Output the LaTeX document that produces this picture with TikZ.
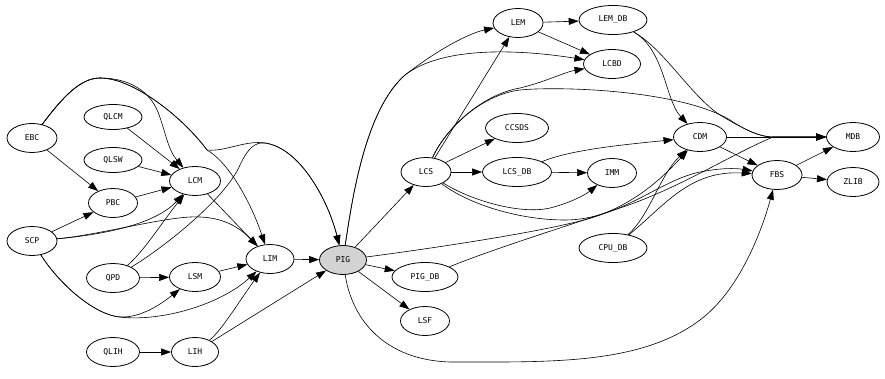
\documentclass[tikz,border=0pt]{standalone}
\usepackage{fontspec}
\newfontfamily\lblfont{DejaVu Sans Mono}
\usetikzlibrary{shapes.geometric,arrows.meta}
\begin{document}
\begin{tikzpicture}[x=1pt,y=-1pt,
  mod/.style={draw,ellipse,line width=0.8pt,inner sep=0pt,minimum width=50pt,minimum height=29pt,font=\lblfont\fontsize{8}{9}\selectfont},
  edge/.style={line width=0.6pt,-{Triangle[length=10pt,width=7pt]}}]
\useasboundingbox (0,0) rectangle (885,378);
% nodes
\node[mod] (EBC) at (32,138) {EBC};
\node[mod,minimum width=58pt,minimum height=25pt] (QLCM) at (113,117) {QLCM};
\node[mod,minimum width=58pt,minimum height=25pt] (QLSW) at (113,160) {QLSW};
\node[mod,minimum width=49pt] (PBC) at (113,203) {PBC};
\node[mod,minimum width=51pt] (LCM) at (195,181) {LCM};
\node[mod] (SCP) at (32,241) {SCP};
\node[mod,minimum width=53pt] (QPD) at (113,278) {QPD};
\node[mod,minimum width=51pt] (LSM) at (195,277) {LSM};
\node[mod,minimum width=48pt] (LIM) at (270,259) {LIM};
\node[mod,minimum width=53pt] (QLIH) at (113,352) {QLIH};
\node[mod,minimum width=47pt] (LIH) at (195,352) {LIH};
\node[mod,minimum width=47pt,fill={rgb,255:red,211;green,211;blue,211}] (PIG) at (343,260) {PIG};
\node[mod] (LCS) at (426,172) {LCS};
\node[mod,minimum width=66pt] (PIGDB) at (425,277) {PIG\_DB};
\node[mod,minimum width=49pt] (LSF) at (425,321) {LSF};
\node[mod] (LEM) at (518,23) {LEM};
\node[mod,minimum width=63pt] (CCSDS) at (517,128) {CCSDS};
\node[mod,minimum width=69pt] (LCSDB) at (517,172) {LCS\_DB};
\node[mod,minimum width=68pt] (LEMDB) at (613,20) {LEM\_DB};
\node[mod,minimum width=57pt] (LCBD) at (612,64) {LCBD};
\node[mod,minimum width=49pt] (IMM) at (612,173) {IMM};
\node[mod,minimum width=68pt] (CPUDB) at (613,248) {CPU\_DB};
\node[mod,minimum width=53pt] (CDM) at (700,137) {CDM};
\node[mod] (FBS) at (777,175) {FBS};
\node[mod,minimum width=53pt] (MDB) at (853,137) {MDB};
\node[mod,minimum width=52pt] (ZLIB) at (853,182) {ZLIB};
\coordinate (mj) at (773,137);
% left edges
\draw[edge] (EBC) -- (PBC);
\draw[edge] (EBC) .. controls (62,98) and (80,78) .. (100,78) .. controls (130,78) and (150,92) .. (158,112) .. controls (165,130) and (168,150) .. (LCM);
\draw[edge] (EBC) .. controls (62,98) and (80,78) .. (100,78) .. controls (135,78) and (185,120) .. (207,150) .. controls (228,162) and (250,200) .. (LIM);
\draw[edge] (EBC) .. controls (62,98) and (80,78) .. (100,78) .. controls (135,78) and (185,120) .. (207,150) .. controls (225,152) and (245,140) .. (265,143) .. controls (300,148) and (328,200) .. (PIG);
\draw[edge] (QLCM) -- (LCM);
\draw[edge] (QLSW) -- (LCM);
\draw[edge] (PBC) -- (LCM);
\draw[edge] (SCP) -- (PBC);
\draw[edge] (SCP) .. controls (100,235) and (155,225) .. (LCM);
\draw[edge] (SCP) .. controls (100,235) and (170,215) .. (200,217) .. controls (225,218) and (240,228) .. (LIM);
\draw[edge] (QPD) .. controls (145,250) and (160,225) .. (LCM);
\draw[edge] (QPD) .. controls (160,250) and (225,200) .. (240,165) .. controls (248,148) and (255,142) .. (265,143) .. controls (300,148) and (328,200) .. (PIG);
\draw[edge] (QPD) -- (LSM);
\draw[edge] (SCP) .. controls (60,285) and (95,315) .. (120,317) .. controls (140,318) and (160,305) .. (LSM);
\draw[edge] (SCP) .. controls (60,285) and (95,315) .. (120,317) .. controls (160,322) and (220,305) .. (LIM);
\draw[edge] (LSM) -- (LIM);
\draw[edge] (LCM) -- (LIM);
\draw[edge] (QLIH) -- (LIH);
\draw[edge] (LIH) .. controls (222,330) and (240,300) .. (LIM);
\draw[edge] (LIH) -- (PIG);
\draw[edge] (LIM) -- (PIG);
% middle edges
\draw[edge] (PIG) -- (LCS);
\draw[edge] (PIG) -- (PIGDB);
\draw[edge] (PIG) -- (LSF);
\draw[edge] (PIG) .. controls (352,200) and (365,110) .. (405,75) .. controls (440,48) and (470,33) .. (LEM);
\draw[edge] (PIG) .. controls (352,200) and (365,110) .. (405,75) .. controls (440,48) and (510,48) .. (LCBD);
\draw[edge] (PIG) .. controls (420,250) and (560,230) .. (600,215) .. controls (640,200) and (665,175) .. (CDM);
\draw[edge] (PIG) .. controls (352,320) and (385,360) .. (450,362) .. controls (550,362) and (640,365) .. (700,320) .. controls (740,290) and (762,230) .. (FBS);
\draw[edge] (PIGDB) .. controls (490,250) and (570,225) .. (620,208) .. controls (680,188) and (730,155) .. (mj) -- (MDB);
\draw[edge] (LCS) -- (LEM);
\draw[edge] (LCS) .. controls (445,130) and (480,95) .. (520,88) .. controls (545,82) and (565,72) .. (LCBD);
\draw[edge] (LCS) .. controls (445,130) and (480,95) .. (520,90) .. controls (560,86) and (680,90) .. (730,120) .. controls (745,130) and (760,137) .. (mj) -- (MDB);
\draw[edge] (LCS) -- (CCSDS);
\draw[edge] (LCS) -- (LCSDB);
\draw[edge] (LCS) .. controls (470,200) and (520,215) .. (550,208) .. controls (570,203) and (585,195) .. (IMM);
\draw[edge] (LCS) .. controls (470,205) and (520,220) .. (565,220) .. controls (620,220) and (660,180) .. (700,172) .. controls (720,168) and (735,168) .. (FBS);
\draw[edge] (LCSDB) -- (IMM);
\draw[edge] (LCSDB) .. controls (570,150) and (620,145) .. (CDM);
% right edges
\draw[edge] (LEM) -- (LEMDB);
\draw[edge] (LEM) -- (LCBD);
\draw[edge] (LEMDB) .. controls (665,50) and (665,100) .. (CDM);
\draw[edge] (LEMDB) .. controls (665,50) and (690,95) .. (720,115) .. controls (745,130) and (760,137) .. (mj) -- (MDB);
\draw[edge] (CDM) -- (MDB);
\draw[edge] (CDM) -- (FBS);
\draw[edge] (FBS) -- (MDB);
\draw[edge] (FBS) -- (ZLIB);
\draw[edge] (CPUDB) .. controls (650,215) and (660,175) .. (CDM);
\draw[edge] (CPUDB) .. controls (665,205) and (690,170) .. (FBS);
\end{tikzpicture}
\end{document}
